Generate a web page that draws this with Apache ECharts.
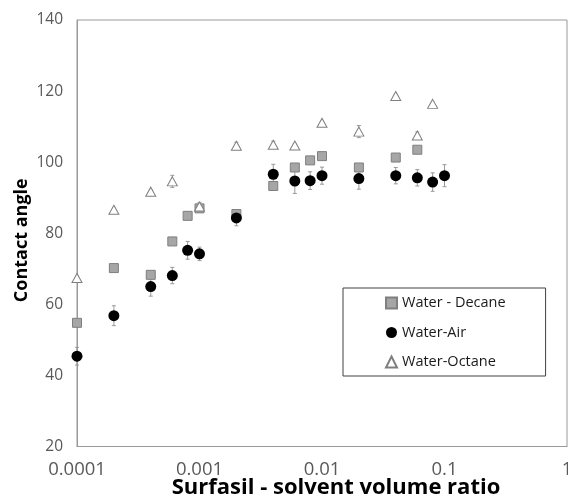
<!DOCTYPE html>
<html>
<head>
<meta charset="utf-8">
<script src="https://cdn.jsdelivr.net/npm/echarts@6/dist/echarts.min.js"></script>
<style>
  html, body { margin: 0; padding: 0; background: #fff; }
  #chart { width: 568px; height: 501px; }
</style>
</head>
<body>
<div id="chart"></div>
<script>
// values
const xTicks = [0.0001, 0.001, 0.01, 0.1, 1]

const decaneX = [0.0001, 0.0002, 0.0004, 0.0006, 0.0008, 0.001, 0.002, 0.004, 0.006, 0.008, 0.01, 0.02, 0.04, 0.06]
const decaneY = [54.8, 70.2, 68.3, 77.7, 84.9, 87.0, 85.4, 93.3, 98.5, 100.5, 101.7, 98.5, 101.3, 103.5]
const decaneErr = [0.5, 0.5, 0.5, 0.5, 0.5, 1.0, 1.0, 0.5, 0.5, 0.5, 1.0, 0.5, 0.5, 0.5]

const airX = [0.0001, 0.0002, 0.0004, 0.0006, 0.0008, 0.001, 0.002, 0.004, 0.006, 0.008, 0.01, 0.02, 0.04, 0.06, 0.08, 0.1]
const airY = [45.4, 56.8, 65.0, 68.1, 75.2, 74.2, 84.3, 96.6, 94.7, 94.8, 96.2, 95.4, 96.2, 95.6, 94.4, 96.2]
const airErr = [2.5, 2.8, 2.7, 2.3, 2.5, 1.9, 2.2, 2.8, 3.5, 2.5, 2.4, 3.0, 2.3, 2.3, 2.6, 3.1]

const octaneX = [0.0001, 0.0002, 0.0004, 0.0006, 0.001, 0.002, 0.004, 0.006, 0.01, 0.02, 0.04, 0.06, 0.08]
const octaneY = [67.4, 86.6, 91.7, 94.6, 87.5, 104.6, 104.9, 104.7, 111.1, 108.6, 118.6, 107.5, 116.4]
const octaneErr = [0.5, 0.5, 0.5, 1.7, 1.2, 1.0, 1.0, 0.5, 0.5, 1.7, 0.5, 1.0, 0.5]

const chart = echarts.init(document.getElementById('chart'))

const zip = (xs, ys, es) => xs.map((x, i) => es ? [x, ys[i], es[i]] : [x, ys[i]])

// 误差棒
function errorBars (name, xs, ys, es) {
    return {
        name: name,
        type: 'custom',
        z: 1,
        silent: true,
        data: zip(xs, ys, es),
        encode: { x: 0, y: 1 },
        renderItem: (params, api) => {
            const x = api.value(0)
            const y = api.value(1)
            const e = api.value(2)
            const hi = api.coord([x, y + e])
            const lo = api.coord([x, y - e])
            const style = { stroke: '#999', lineWidth: 1 }
            return {
                type: 'group',
                children: [
                    { type: 'line', shape: { x1: hi[0], y1: hi[1], x2: lo[0], y2: lo[1] }, style: style },
                    { type: 'line', shape: { x1: hi[0] - 2, y1: hi[1], x2: hi[0] + 2, y2: hi[1] }, style: style },
                    { type: 'line', shape: { x1: lo[0] - 2, y1: lo[1], x2: lo[0] + 2, y2: lo[1] }, style: style }
                ]
            }
        }
    }
}

const option = {
    animation: false,
    textStyle: { fontFamily: 'Open Sans' },
    grid: {
        left: 77,
        top: 20,
        right: 1,
        bottom: 54.5,
        containLabel: false,
        outerBoundsMode: 'none',
        show: true,
        borderColor: '#999',
        borderWidth: 1
    },
    legend: {
        orient: 'vertical',
        left: 343,
        top: 288,
        padding: [7, 40, 6, 42],
        borderColor: '#404040',
        borderWidth: 1,
        itemWidth: 11,
        itemHeight: 11,
        itemGap: 13.5,
        data: ['Water - Decane', 'Water-Air', 'Water-Octane'],
        textStyle: { fontSize: 14.5, color: '#1a1a1a', lineHeight: 16 }
    },
    xAxis: {
        type: 'log',
        logBase: 10,
        min: xTicks[0],
        max: xTicks[xTicks.length - 1],
        name: 'Surfasil - solvent volume ratio',
        nameLocation: 'middle',
        nameGap: 30,
        nameMoveOverlap: false,
        nameTextStyle: { fontSize: 22, fontWeight: 'bold', color: '#000', padding: [0, 0, 0, 28] },
        axisLine: { lineStyle: { color: '#999' } },
        axisTick: { show: false },
        splitLine: { show: false },
        axisLabel: {
            fontSize: 18.5,
            color: '#595959',
            margin: 14,
            showMaxLabel: true,
            formatter: (v) => String(+v.toPrecision(6))
        }
    },
    yAxis: {
        type: 'value',
        min: 20,
        max: 140,
        interval: 20,
        name: 'Contact angle',
        nameLocation: 'middle',
        nameGap: 46,
        nameMoveOverlap: false,
        nameTextStyle: { fontSize: 18, fontWeight: 'bold', color: '#000', padding: [0, 14, 0, 0] },
        axisLine: { show: true, lineStyle: { color: '#999' } },
        axisTick: { show: false },
        splitLine: { show: false },
        axisLabel: { fontSize: 15.5, color: '#595959', margin: 14 }
    },
    series: [
        errorBars('decaneErr', decaneX, decaneY, decaneErr),
        errorBars('airErr', airX, airY, airErr),
        errorBars('octaneErr', octaneX, octaneY, octaneErr),
        {
            name: 'Water - Decane',
            type: 'scatter',
            z: 3,
            symbol: 'rect',
            symbolSize: 9,
            itemStyle: { color: '#a6a6a6', borderColor: '#7f7f7f', borderWidth: 1, opacity: 1 },
            data: zip(decaneX, decaneY)
        },
        {
            name: 'Water-Air',
            type: 'scatter',
            z: 4,
            symbol: 'circle',
            symbolSize: 11,
            itemStyle: { color: '#000', opacity: 1 },
            data: zip(airX, airY)
        },
        {
            name: 'Water-Octane',
            type: 'scatter',
            z: 5,
            symbol: 'triangle',
            symbolSize: [10, 9],
            itemStyle: { color: '#fff', borderColor: '#7f7f7f', borderWidth: 1, opacity: 1 },
            data: zip(octaneX, octaneY)
        }
    ]
}

chart.setOption(option)
</script>
</body>
</html>
